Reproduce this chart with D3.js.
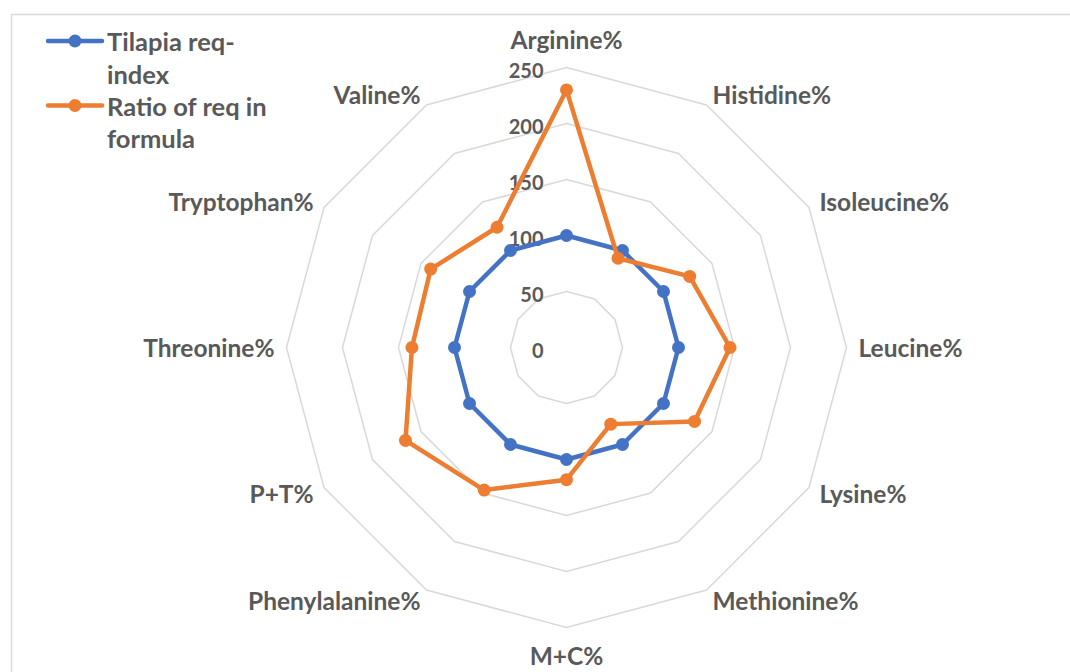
<!DOCTYPE html>
<html><head><meta charset="utf-8">
<script src="https://cdn.jsdelivr.net/npm/d3@7"></script>
<style>body{margin:0;background:#fff}svg{display:block}text{font-family:Lato,"Open Sans",sans-serif;font-weight:bold;fill:#595959}</style>
</head><body>
<svg id="c" width="1070" height="672"></svg>
<script>
const categories = ["Arginine%","Histidine%","Isoleucine%","Leucine%","Lysine%","Methionine%","M+C%","Phenylalanine%","P+T%","Threonine%","Tryptophan%","Valine%"];
const tilapiaReqIndex = [100,100,100,100,100,100,100,100,100,100,100,100];
const ratioOfReqInFormula = [230,92,127,146,132,79,118,147,166,138,140,124];
const tickValues = [0,50,100,150,200,250];
const seriesNames = ["Tilapia req-\nindex","Ratio of req in\nformula"];
const colors = ["#4472C4","#ED7D31"];

const svg = d3.select("#c");
svg.append("rect").attr("x",11.5).attr("y",14.5).attr("width",1100).attr("height",700)
  .attr("fill","none").attr("stroke","#D9D9D9").attr("stroke-width",1.5);

const cx = 566.5, cy = 347.5;
const r = d3.scaleLinear().domain([0,250]).range([0,280]);
const ang = d3.scaleLinear().domain([0,categories.length]).range([0,2*Math.PI]);
const g = svg.append("g").attr("transform",`translate(${cx},${cy})`);

const radial = d3.lineRadial().angle((d,i)=>ang(i)).radius(d=>r(d)).curve(d3.curveLinearClosed);

// grid rings
g.selectAll("path.ring").data(tickValues.filter(v=>v>0)).join("path")
  .attr("d",v=>radial(categories.map(()=>v)))
  .attr("fill","none").attr("stroke","#D9D9D9").attr("stroke-width",1.5);

// tick labels
g.selectAll("text.tick").data(tickValues).join("text")
  .attr("x",-23).attr("y",v=>-r(v)+2).attr("text-anchor","end").attr("dominant-baseline","central")
  .style("font-size","20px").text(v=>v);

// category labels
const labR = 292;
g.selectAll("text.cat").data(categories).join("text")
  .each(function(d,i){
    const a = ang(i);
    const s = Math.sin(a), c = Math.cos(a);
    let x = labR*s, y = -labR*c;
    let anchor = Math.abs(s)<0.01 ? "middle" : (s>0?"start":"end");
    if (Math.abs(s)<0.01) y += (c>0?-16:16);
    d3.select(this).attr("x",x).attr("y",y).attr("text-anchor",anchor).attr("dominant-baseline","central");
  })
  .style("font-size","24.5px").text(d=>d);

// series
const series = [tilapiaReqIndex, ratioOfReqInFormula];
series.forEach((vals,k)=>{
  g.append("path").attr("d",radial(vals)).attr("fill","none")
    .attr("stroke",colors[k]).attr("stroke-width",4.5).attr("stroke-linejoin","round");
  g.selectAll(null).data(vals).join("circle")
    .attr("cx",(d,i)=>r(d)*Math.sin(ang(i))).attr("cy",(d,i)=>-r(d)*Math.cos(ang(i)))
    .attr("r",6.5).attr("fill",colors[k]);
});

// legend
const lg = svg.append("g");
seriesNames.forEach((name,k)=>{
  const y0 = 41 + k*64.5;
  lg.append("line").attr("x1",48).attr("x2",102).attr("y1",y0).attr("y2",y0)
    .attr("stroke",colors[k]).attr("stroke-width",4.5).attr("stroke-linecap","round");
  lg.append("circle").attr("cx",75).attr("cy",y0).attr("r",6.5).attr("fill",colors[k]);
  name.split("\n").forEach((ln,j)=>{
    lg.append("text").attr("x",107).attr("y",y0+j*32.5).attr("dominant-baseline","central")
      .style("font-size","25.5px").text(ln);
  });
});
</script>
</body></html>
